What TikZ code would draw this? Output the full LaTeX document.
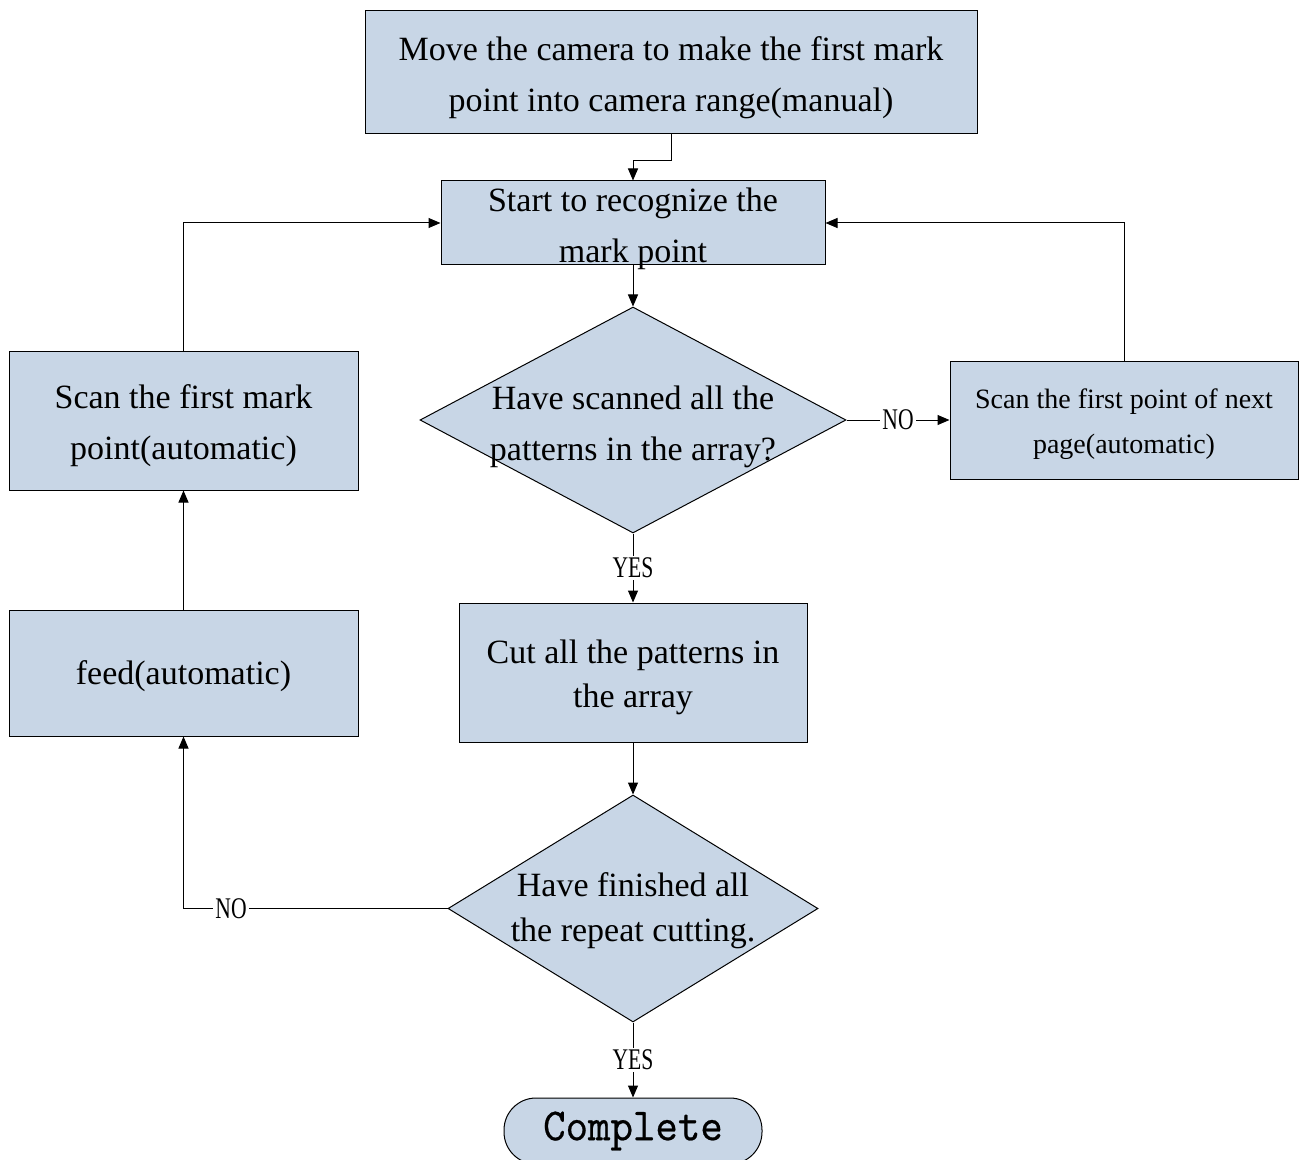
\documentclass[tikz,border=0pt]{standalone}
\usepackage{fontspec}
\setmainfont{Liberation Serif}
\newfontfamily\narrowfont[FakeStretch=0.72]{Liberation Serif}
\newfontfamily\endfont[FakeStretch=0.93,FakeBold=0.5]{lmmono10-regular.otf}
\usetikzlibrary{shapes.geometric,arrows.meta}
\definecolor{boxfill}{RGB}{200,214,230}
% raises the first line so the text sits a little lower in its box
\newcommand{\lift}[1][17pt]{\rule{0pt}{#1}}

\begin{document}
\begin{tikzpicture}[x=0.5pt,y=-0.5pt,
  every node/.style={font=\fontsize{17}{25.5}\selectfont},
  box/.style={draw, fill=boxfill, line width=0.5pt, inner sep=0pt, align=center},
  decision/.style={draw, fill=boxfill, diamond, line width=0.5pt, inner sep=0pt},
  terminal/.style={draw, fill=boxfill, line width=0.5pt, rounded corners=16pt, inner sep=0pt},
  txt/.style={align=center, inner sep=0pt},
  lbl/.style={fill=white, inner sep=1pt, font=\narrowfont\fontsize{15}{15}\selectfont},
  arr/.style={-{Triangle[length=6pt,width=5pt]}, line width=0.5pt},
]
\useasboundingbox (0,0) rectangle (1299,1160);

\node[box, minimum width=306pt, minimum height=61.5pt] at (671,72.5) (move) {\lift Move the camera to make the first mark\\point into camera range(manual)};
\node[box, minimum width=192pt, minimum height=42pt] at (633,223) (start) {};
\node[txt] at (633,229) (starttxt) {Start to recognize the\\mark point};

\node[decision, minimum width=213pt, minimum height=113pt] at (633,420) (scan) {};
\node[txt] at (633,427) (scantxt) {Have scanned all the\\patterns in the array?};
\node[box, minimum width=174pt, minimum height=59pt, font=\fontsize{14}{22.5}\selectfont] at (1124,420) (next) {\lift[14.5pt]Scan the first point of next\\page(automatic)};

\node[box, minimum width=174.5pt, minimum height=69.5pt] at (183.5,420.5) (scanmark) {\lift Scan the first mark\\point(automatic)};
\node[box, minimum width=174.5pt, minimum height=63pt] at (183.5,673) (feed) {\lift[15pt]feed(automatic)};
\node[box, minimum width=174pt, minimum height=69.5pt, font=\fontsize{17}{22}\selectfont] at (633,672.5) (cut) {\lift Cut all the patterns in\\the array};

\node[decision, minimum width=185pt, minimum height=113.5pt] at (633,908.5) (finish) {};
\node[txt, font=\fontsize{17}{22.5}\selectfont] at (633,911) (finishtxt) {Have finished all\\the repeat cutting.};

\node[terminal, minimum width=129pt, minimum height=33pt, font=\endfont\fontsize{23}{23}\selectfont] at (633,1131) (done) {Complete};

\draw[arr] (move.south) -- ++(0,26) -| (start.north);
\draw[arr] (start.south) -- (scan.north);
\draw[arr] (scan.east) -- node[lbl] (no1) {NO} (next.west);
\draw[arr] (next.north) |- (start.east);
\draw[arr] (scan.south) -- node[lbl] (yes1) {YES} (cut.north);
\draw[arr] (cut.south) -- (finish.north);
\draw[arr] (finish.west) -| node[lbl, pos=0.41] (no2) {NO} (feed.south);
\draw[arr] (feed.north) -- (scanmark.south);
\draw[arr] (scanmark.north) |- (start.west);
\draw[arr] (finish.south) -- node[lbl] (yes2) {YES} (done.north);
\end{tikzpicture}
\end{document}
